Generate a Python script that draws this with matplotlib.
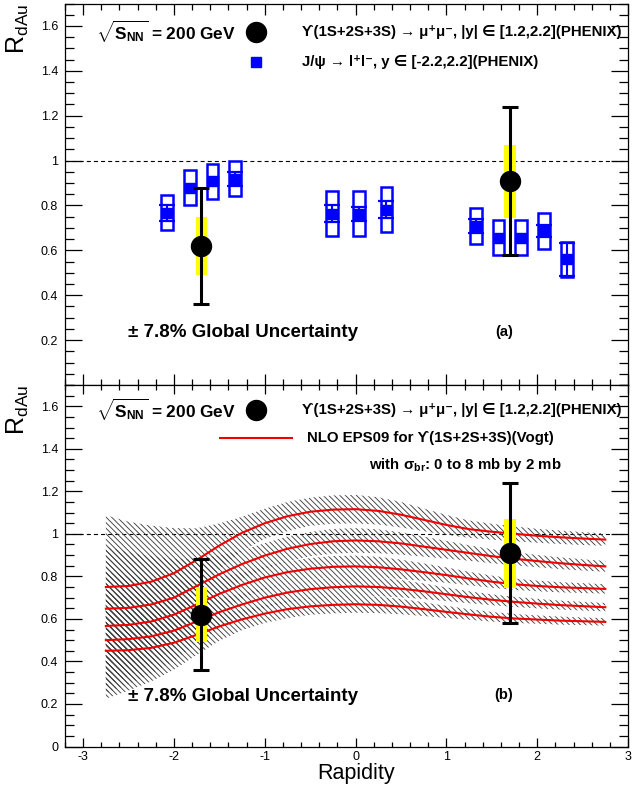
import numpy as np
import matplotlib
matplotlib.use('Agg')
import matplotlib.pyplot as plt
from matplotlib.patches import Rectangle
from matplotlib.ticker import MultipleLocator, FixedLocator

plt.rcParams['font.family'] = ['Liberation Sans', 'DejaVu Sans']
plt.rcParams['mathtext.fontset'] = 'custom'
plt.rcParams['mathtext.rm'] = 'Liberation Sans'
plt.rcParams['mathtext.bf'] = 'Liberation Sans:bold'
plt.rcParams['mathtext.it'] = 'Liberation Sans:italic'
plt.rcParams['hatch.linewidth'] = 0.65

# ---------------- data ----------------
# Upsilon(1S+2S+3S) PHENIX
ups_x = [-1.7, 1.7]
ups_val = [0.62, 0.91]
ups_stat_lo = [0.26, 0.33]
ups_stat_hi = [0.26, 0.33]
ups_sys_lo = [0.13, 0.165]
ups_sys_hi = [0.13, 0.16]

# J/psi PHENIX
jpsi_x = [-2.075, -1.825, -1.575, -1.325, -0.26, 0.04, 0.34,
          1.325, 1.575, 1.825, 2.075, 2.325]
jpsi_val = [0.767, 0.878, 0.908, 0.918, 0.764, 0.763, 0.782,
            0.708, 0.656, 0.656, 0.687, 0.56]
jpsi_stat = [0.034, 0.015, 0.015, 0.030, 0.037, 0.031, 0.037,
             0.032, 0.015, 0.015, 0.026, 0.074]
jpsi_sys = [0.078, 0.078, 0.077, 0.078, 0.101, 0.100, 0.101,
            0.079, 0.078, 0.078, 0.079, 0.077]

# NLO EPS09 (Vogt), sigma_br = 0, 2, 4, 6, 8 mb
theo_x = [-2.75, -2.5, -2.25, -2.0, -1.75, -1.5, -1.25, -1.0, -0.75, -0.5,
          -0.25, 0.0, 0.25, 0.5, 0.75, 1.0, 1.25, 1.5, 1.75, 2.0, 2.25, 2.5, 2.75]
theo_0mb = [0.750, 0.755, 0.775, 0.815, 0.877, 0.945, 1.005, 1.050, 1.083, 1.104,
            1.114, 1.116, 1.108, 1.090, 1.066, 1.042, 1.022, 1.010, 1.000, 0.991,
            0.984, 0.978, 0.973]
theo_2mb = [0.648, 0.652, 0.668, 0.700, 0.755, 0.810, 0.858, 0.898, 0.930, 0.952,
            0.965, 0.969, 0.965, 0.955, 0.940, 0.925, 0.910, 0.895, 0.883, 0.872,
            0.862, 0.854, 0.847]
theo_4mb = [0.567, 0.572, 0.588, 0.620, 0.668, 0.718, 0.760, 0.795, 0.820, 0.836,
            0.845, 0.847, 0.843, 0.833, 0.820, 0.806, 0.790, 0.775, 0.763, 0.755,
            0.749, 0.745, 0.741]
theo_6mb = [0.500, 0.505, 0.518, 0.545, 0.588, 0.632, 0.668, 0.700, 0.724, 0.740,
            0.749, 0.753, 0.750, 0.742, 0.730, 0.716, 0.702, 0.690, 0.680, 0.672,
            0.665, 0.660, 0.655]
theo_8mb = [0.450, 0.453, 0.464, 0.488, 0.525, 0.565, 0.598, 0.625, 0.646, 0.659,
            0.666, 0.669, 0.666, 0.658, 0.646, 0.633, 0.621, 0.610, 0.602, 0.597,
            0.592, 0.589, 0.586]
# relative EPS09 uncertainty (upper / lower)
band_up = [0.45, 0.40, 0.34, 0.26, 0.17, 0.11, 0.075, 0.065, 0.062, 0.060,
           0.060, 0.060, 0.058, 0.055, 0.050, 0.045, 0.040, 0.037, 0.035, 0.033,
           0.032, 0.031, 0.030]
band_lo = [0.50, 0.42, 0.34, 0.26, 0.18, 0.12, 0.085, 0.070, 0.065, 0.060,
           0.060, 0.060, 0.058, 0.055, 0.050, 0.045, 0.040, 0.037, 0.035, 0.033,
           0.032, 0.031, 0.030]

y_ticks = [0.2, 0.4, 0.6, 0.8, 1.0, 1.2, 1.4, 1.6]
y_tick_labels = ['0.2', '0.4', '0.6', '0.8', '1', '1.2', '1.4', '1.6']
x_ticks = [-3, -2, -1, 0, 1, 2, 3]
x_tick_labels = ['-3', '-2', '-1', '0', '1', '2', '3']

# ---------------- figure ----------------
W, H = 644, 789
fig = plt.figure(figsize=(W / 100, H / 100), dpi=100)
L = 65 / W
Wd = (628 - 65) / W
ax1 = fig.add_axes([L, 1 - 385 / H, Wd, (385 - 3.5) / H])
ax2 = fig.add_axes([L, 1 - 746.5 / H, Wd, (746.5 - 385) / H])

BLUE = '#0000ff'
RED = '#f00000'
LEG_FS = 10.8
BIG_FS = 12.4


def style_axis(ax, xmaj_len, show_x_labels, show_zero):
    ax.set_xlim(-3.2, 3.0)
    ax.set_ylim(0, 1.7)
    ax.xaxis.set_major_locator(FixedLocator(x_ticks))
    ax.xaxis.set_minor_locator(MultipleLocator(0.2))
    ax.yaxis.set_minor_locator(MultipleLocator(0.05))
    if show_zero:
        ax.set_yticks([0.0] + y_ticks)
        ax.set_yticklabels(['0'] + y_tick_labels)
    else:
        ax.set_yticks(y_ticks)
        ax.set_yticklabels(y_tick_labels)
    ax.set_xticks(x_ticks)
    if show_x_labels:
        ax.set_xticklabels(x_tick_labels)
    else:
        ax.set_xticklabels([])
    ax.tick_params(axis='both', which='both', direction='in', top=True, right=True,
                   labelsize=9, width=0.9, colors='k')
    ax.tick_params(axis='x', which='major', length=xmaj_len, pad=3.5)
    ax.tick_params(axis='x', which='minor', length=xmaj_len / 2)
    ax.tick_params(axis='y', which='major', length=12, pad=5)
    ax.tick_params(axis='y', which='minor', length=6.3)
    for s in ax.spines.values():
        s.set_linewidth(0.9)
    ax.axhline(1.0, color='k', lw=0.8, ls=(0, (3.6, 2.8)), zorder=1)


def draw_upsilon(ax):
    for x, v, slo, shi in zip(ups_x, ups_val, ups_sys_lo, ups_sys_hi):
        ax.add_patch(Rectangle((x - 0.062, v - slo), 0.124, slo + shi,
                               facecolor='#ffff00', edgecolor='none', zorder=5))
    ax.errorbar(ups_x, ups_val, yerr=[ups_stat_lo, ups_stat_hi], fmt='none',
                ecolor='k', elinewidth=2.2, capsize=6, capthick=2.2, zorder=6)
    ax.plot(ups_x, ups_val, 'o', ms=14.4, color='k', zorder=7)


style_axis(ax1, 8, False, False)
style_axis(ax2, 6.7, True, True)

# ---------------- top panel ----------------
for x, v, s in zip(jpsi_x, jpsi_val, jpsi_sys):
    ax1.add_patch(Rectangle((x - 0.064, v - s), 0.128, 2 * s, fill=False,
                            edgecolor=BLUE, lw=1.8, zorder=3))
half_marker = 0.024
for x, v, e in zip(jpsi_x, jpsi_val, jpsi_stat):
    if e > half_marker:
        ax1.errorbar([x], [v], yerr=[[e], [e]], fmt='none', ecolor=BLUE,
                     elinewidth=1.5, capsize=6, capthick=1.6, zorder=3)
ax1.plot(jpsi_x, jpsi_val, 's', ms=7, color=BLUE, zorder=4)
draw_upsilon(ax1)

ax1.text(-2.857, 1.575, r'$\sqrt{\mathbf{S}_{\mathbf{NN}}}$ = 200 GeV', fontsize=BIG_FS,
         fontweight='bold', ha='left', va='center')
ax1.plot([-1.097], [1.575], 'o', ms=14.4, color='k')
ax1.text(-0.59, 1.575, 'ϒ(1S+2S+3S) → μ⁺μ⁻, |y| ∈ [1.2,2.2](PHENIX)', fontsize=LEG_FS,
         fontweight='bold', ha='left', va='center')
ax1.plot([-1.097], [1.441], 's', ms=7, color=BLUE)
ax1.text(-0.59, 1.441, 'J/ψ → l⁺l⁻, y ∈ [-2.2,2.2](PHENIX)', fontsize=LEG_FS,
         fontweight='bold', ha='left', va='center')
ax1.text(-2.505, 0.236, '± 7.8% Global Uncertainty', fontsize=13.5,
         fontweight='bold', ha='left', va='center')
ax1.text(1.632, 0.238, '(a)', fontsize=10.5, fontweight='bold', ha='center', va='center')

# ---------------- bottom panel ----------------
tx = np.array(theo_x)
bu = np.array(band_up)
bl = np.array(band_lo)
curves = [theo_0mb, theo_2mb, theo_4mb, theo_6mb, theo_8mb]
for c in curves:
    c = np.array(c)
    ax2.fill_between(tx, c * (1 - bl), c * (1 + bu), facecolor='none',
                     edgecolor='0.25', hatch='\\' * 6, linewidth=0, zorder=2)
for c in curves:
    ax2.plot(tx, c, color=RED, lw=1.5, zorder=3)
draw_upsilon(ax2)

ax2.text(-2.857, 1.582, r'$\sqrt{\mathbf{S}_{\mathbf{NN}}}$ = 200 GeV', fontsize=BIG_FS,
         fontweight='bold', ha='left', va='center')
ax2.plot([-1.097], [1.582], 'o', ms=14.4, color='k')
ax2.text(-0.59, 1.582, 'ϒ(1S+2S+3S) → μ⁺μ⁻, |y| ∈ [1.2,2.2](PHENIX)', fontsize=LEG_FS,
         fontweight='bold', ha='left', va='center')
ax2.plot([-1.495, -0.704], [1.449, 1.449], color=RED, lw=1.5)
ax2.text(-0.533, 1.449, 'NLO EPS09 for ϒ(1S+2S+3S)(Vogt)', fontsize=LEG_FS,
         fontweight='bold', ha='left', va='center')
ax2.text(0.148, 1.324, r'with σ$_{\mathbf{br}}$: 0 to 8 mb by 2 mb', fontsize=LEG_FS,
         fontweight='bold', ha='left', va='center')
ax2.text(-2.505, 0.236, '± 7.8% Global Uncertainty', fontsize=13.5,
         fontweight='bold', ha='left', va='center')
ax2.text(1.632, 0.244, '(b)', fontsize=10.5, fontweight='bold', ha='center', va='center')

# axis titles
fig.text(18 / W, 1 - 3.5 / H, r'R$_{\mathrm{dAu}}$', rotation=90, ha='center', va='top',
         fontsize=18)
fig.text(18 / W, 1 - 385 / H, r'R$_{\mathrm{dAu}}$', rotation=90, ha='center', va='top',
         fontsize=18)
fig.text(356 / W, 1 - 773 / H, 'Rapidity', ha='center', va='center', fontsize=15.5)

fig.savefig('out.png', dpi=100)
